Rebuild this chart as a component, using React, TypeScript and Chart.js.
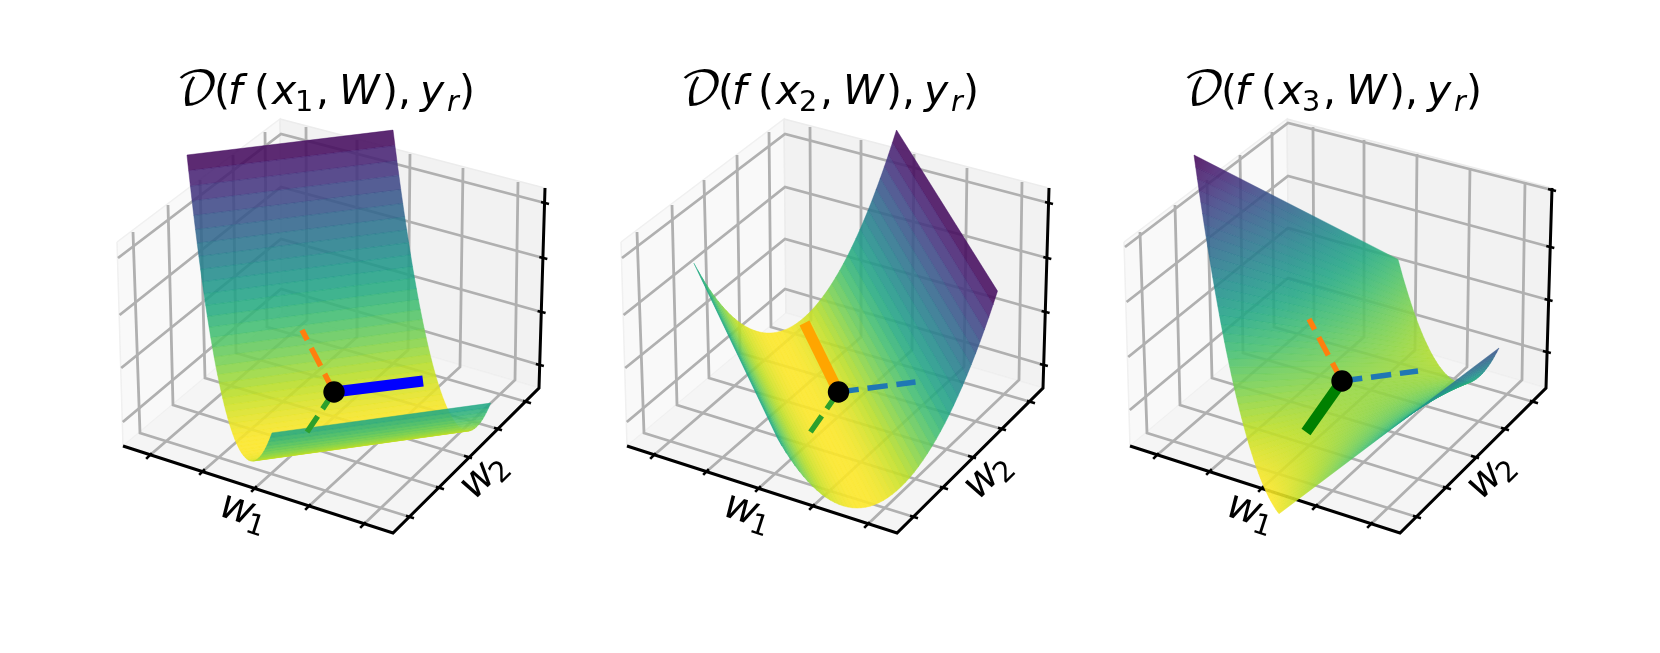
import React, { useEffect, useRef } from "react";
import { Chart, registerables } from "chart.js";

Chart.register(...registerables);

// ---------- data ----------
const acrossDomain = [0,.02,.04,.06,.08,.1,.12,.14,.16,.18,.2,.22,.24,.26,.28,.3,.32,.34,.36,.38,.4,.42,.44,.46,.48,.5,.52,.54,.56,.58,.6,.62,.64,.66,.68,.7,.72,.74,.76,.78,.8,.82,.84,.86,.88,.9,.92,.94,.96,.98,1];
const lossValley = [1,.9352,.8725,.812,.7537,.6976,.6436,.5918,.5422,.4947,.4494,.4063,.3654,.3266,.29,.2556,.2234,.1933,.1654,.1397,.1161,.0948,.0756,.0585,.0437,.031,.0205,.0121,.0059,.002,.0001,.0005,.003,.0077,.0146,.0236,.0348,.0482,.0637,.0815,.1014,.1235,.1477,.1741,.2027,.2335,.2664,.3015,.3388,.3783,.4199];
const lossThirdLeft = [1,.9545,.9101,.8668,.8245,.7832,.743,.7039,.6659,.6288,.5929,.558,.5242,.4914,.4597,.429,.3994,.3709,.3434,.317,.2916,.2673,.244,.2218,.2007,.1806,.1616,.1436,.1267,.1109,.0961,.0824,.0697,.0581,.0475,.038,.0296,.0222,.0159,.0106,.0064,.0032,.0012,.0001,.0001,.0012,.0034,.0066,.0108,.0161,.0225];
const lossThirdRight = [.319,.298,.277,.258,.241,.224,.209,.194,.182,.17,.159,.15,.142,.135,.13,.126,.122,.121,.12,.121,.122,.126,.13,.135,.142,.15,.159,.17,.182,.194,.209,.224,.241,.258,.277,.298,.319,.342,.366,.391,.418,.445,.474,.504,.536,.568,.602,.637,.674,.711,.75];

// ---------- view of each surface: where its two long edges lie on the floor ----------
const surfaces = [
  { zA: lossValley, zB: lossValley, A: { o: [187, 346.4], v: [85, 166.9], rise: 191.4 }, B: { o: [393, 318.7], v: [97.6, 163.6], rise: 188.6 } },
  { zA: lossValley, zB: lossValley, A: { o: [896, 318.26], v: [-202.6, 24], rise: 188.26 }, B: { o: [997, 486.86], v: [-219.8, 34], rise: 195.8 } },
  { zA: lossThirdLeft, zB: lossThirdRight, A: { o: [1194, 345], v: [85, 173], rise: 190 }, B: { o: [1398, 320], v: [101, 170.5], rise: 190 } },
];

const panelOffsets = [0, 503.5, 1007];
const SURFACE_ALPHA = 0.88;
const viridis = ["#440154","#482475","#414487","#355f8d","#2a788e","#21918c","#22a884","#44bf70","#7ad151","#bddf26","#fde725"];

// ---------- axes box geometry (first panel) ----------
const paneLeft = [[117,242],[280,119],[282,313],[123,446]];
const paneRight = [[280,119],[545,188],[539,388],[282,313]];
const paneFloor = [[123,446],[282,313],[539,388],[393,533]];
const w1Ticks = [[149,456],[202,472],[254,489],[308,507],[363,525]];
const w1BackEnds = [[307,320],[357,337],[408,350],[460,367],[515,380]];
const w1WallTops = [[306,127],[357,140],[410,154],[463,168],[518,182]];
const w2Ticks = [[410,517],[440,488],[468,457],[498,429],[527,402]];
const w2BackEnds = [[140,433],[173,405],[205,378],[236,353],[267,327]];
const w2WallTops = [[133,232],[168,205],[200,180],[233,155],[265,132]];
const zGridLeft = [[258,315,368,422],[258,315,368,422],[247,302,357,410]];
const zGridBack = [[134,187,239,289],[134,187,239,289],[123,176,228,278]];
const zGridRight = [[203,258,312,365],[203,258,312,365],[190,247,300,352]];

// ---------- flat directions and minima ----------
const minima = [[334,392],[838,392],[1342,381]];
const blueDirs = [[89,-11],[77,-10],[76,-10]];
const orangeDirs = [[-32,-62],[-34,-69],[-33,-62]];
const greenDirs = [[-27,40],[-28,40],[-36,51]];
const solidDirection = ["blue","orange","green"];

// ---------- text ----------
const subscripts = ["1","2","3"];
const titleFont = 41;

const hexRgb = (h: string) => [1,3,5].map((i) => parseInt(h.slice(i,i+2),16));
function colour(z: number) {
  const t = Math.max(0, Math.min(1, 1 - z)) * 10;
  const i = Math.min(9, Math.floor(t));
  const a = hexRgb(viridis[i]), b = hexRgb(viridis[i+1]), f = t - i;
  const c = a.map((v, k) => Math.round(v + (b[k]-v)*f));
  return `rgba(${c[0]},${c[1]},${c[2]},${SURFACE_ALPHA})`;
}

const XY = (pts: number[][], dx = 0) => pts.map(([x, y]) => ({ x: x + dx, y }));
// The long dash keeps Chart.js off its fast path, which would merge vertices sharing a pixel column.
const poly = (pts: {x:number,y:number}[], backgroundColor: any, extra: any = {}) => ({
  data: [...pts, pts[0]], fill: "shape", backgroundColor, borderWidth: 0, pointRadius: 0, tension: 0, borderDash: [100000], ...extra,
});
const line = (pts: {x:number,y:number}[], borderColor: string, borderWidth: number, extra: any = {}) => ({
  data: pts, fill: false, borderColor, borderWidth, pointRadius: 0, tension: 0, ...extra,
});

function buildDatasets(i: number, ctx: CanvasRenderingContext2D, xMin: number) {
  const dx = panelOffsets[i];
  const out: any[] = [];
  // panes
  out.push(poly(XY(paneLeft, dx), "#f9f9f9", { borderColor: "#f0f0f0", borderWidth: 1.5 }));
  out.push(poly(XY(paneRight, dx), "#f2f2f2", { borderColor: "#ececec", borderWidth: 1.5 }));
  out.push(poly(XY(paneFloor, dx), "#f5f5f5", { borderColor: "#f0f0f0", borderWidth: 1 }));
  // grid
  const GRID = "#b0b0b0", GW = 2.8;
  w1Ticks.forEach((t, k) => out.push(line(XY([t, w1BackEnds[k], w1WallTops[k]], dx), GRID, GW)));
  w2Ticks.forEach((t, k) => out.push(line(XY([t, w2BackEnds[k], w2WallTops[k]], dx), GRID, GW)));
  zGridBack[i].forEach((b, k) => {
    const lx = 118 + k * 1.6, rx = 545 - k * 1.7;
    out.push(line(XY([[lx, zGridLeft[i][k]], [281, b], [rx, zGridRight[i][k]]], dx), GRID, GW));
  });
  // axes
  out.push(line(XY([[123,446],[393,533],[539,388],[545,188]], dx), "#000", 3));
  w1Ticks.forEach(([x, y]) => out.push(line(XY([[x-2.8,y+2.8],[x+2.8,y-2.8]], dx), "#000", 2.6)));
  w2Ticks.forEach(([x, y]) => out.push(line(XY([[x-4,y-1.3],[x+4,y+1.3]], dx), "#000", 2.6)));
  zGridRight[i].forEach((y, k) => {
    const x = 545 - k * 1.7;
    out.push(line(XY([[x-4,y-1],[x+4,y+1]], dx), "#000", 2.6));
  });
  // surface, far strip first
  const s = surfaces[i];
  const end = (e: any, q: number, z: number) => ({ x: e.o[0] + e.v[0]*q, y: e.o[1] + e.v[1]*q - e.rise*z });
  for (let k = 0; k < acrossDomain.length - 1; k++) {
    const q0 = acrossDomain[k], q1 = acrossDomain[k+1];
    const a0 = end(s.A, q0, s.zA[k]), a1 = end(s.A, q1, s.zA[k+1]);
    const b0 = end(s.B, q0, s.zB[k]), b1 = end(s.B, q1, s.zB[k+1]);
    const zA = (s.zA[k] + s.zA[k+1]) / 2, zB = (s.zB[k] + s.zB[k+1]) / 2;
    let fillStyle: any = colour(zA);
    if (s.zA !== s.zB) {
      const g = ctx.createLinearGradient((a0.x+a1.x)/2 - xMin, (a0.y+a1.y)/2, (b0.x+b1.x)/2 - xMin, (b0.y+b1.y)/2);
      for (let j = 0; j <= 10; j++) g.addColorStop(j/10, colour(zA + (zB-zA)*j/10));
      fillStyle = g;
    }
    out.push(poly([a0, b0, b1, a1], fillStyle, { borderColor: fillStyle, borderWidth: 0.5 }));
  }
  // flat directions
  const [cx, cy] = minima[i];
  const dirLine = (d: number[], col: string, solid: boolean) => line(
    [{x:cx,y:cy},{x:cx+d[0],y:cy+d[1]}], col, solid ? 11 : 5.5, solid ? {} : { borderDash: [20.4, 8.8] });
  const sol = solidDirection[i];
  out.push(dirLine(orangeDirs[i], sol === "orange" ? "#ffa500" : "#ff7f0e", sol === "orange"));
  out.push(dirLine(blueDirs[i], sol === "blue" ? "#0000ff" : "#1f77b4", sol === "blue"));
  out.push(dirLine(greenDirs[i], sol === "green" ? "#008000" : "#2ca02c", sol === "green"));
  out.push({ data: [{x:cx,y:cy}], showLine: false, pointRadius: 10.7, pointBackgroundColor: "#000", pointBorderWidth: 0 });
  return out.map((d, n) => ({ ...d, order: out.length - n }));
}

function drawText(c: CanvasRenderingContext2D, text: string, x: number, y: number, font: string) {
  c.font = font; c.fillStyle = "#000"; c.textBaseline = "alphabetic"; c.textAlign = "left";
  c.fillText(text, x, y);
}

const textPlugin = (i: number, xMin: number) => ({
  id: "mathText" + i,
  afterDraw(chart: any) {
    const c = chart.ctx as CanvasRenderingContext2D;
    const off = panelOffsets[i] - xMin;
    const sans = '"DejaVu Sans"';
    const S = titleFont;
    const B = 103.5;
    const SUB = B + 7;
    const up = `${S}px ${sans}`, it = `italic ${S}px ${sans}`, sub = `${S*0.7}px ${sans}`, subIt = `italic ${S*0.7}px ${sans}`;
    c.save();
    drawText(c, "\u{1D49F}", 176+off, B, `46px "DejaVu Math TeX Gyre", ${sans}`);
    drawText(c, "(", 214+off, B, up);
    drawText(c, "f", 228+off, B, it);
    drawText(c, "(", 254+off, B, up);
    drawText(c, "x", 272+off, B, it);
    drawText(c, subscripts[i], 295+off, SUB, sub);
    drawText(c, ",", 316+off, B, up);
    drawText(c, "W", 339+off, B, it);
    drawText(c, ")", 382+off, B, up);
    drawText(c, ",", 398+off, B, up);
    drawText(c, "y", 420+off, B, it);
    drawText(c, "r", 447+off, SUB, subIt);
    drawText(c, ")", 459+off, B, up);

    const axisLabel = (txt: string, cx: number, cy: number, deg: number) => {
      c.save();
      c.translate(cx + off, cy);
      c.rotate(deg * Math.PI / 180);
      drawText(c, "w", -23, 12, it);
      drawText(c, txt, 7, 19, sub);
      c.restore();
    };
    axisLabel("1", 243, 511, 18);
    axisLabel("2", 482, 476, -45);
    c.restore();
  },
});

const CANVAS_W = 500, BASE_LEFT = 90;

function Panel({ index }: { index: number }) {
  const ref = useRef<HTMLCanvasElement | null>(null);
  useEffect(() => {
    const canvas = ref.current!;
    const ctx = canvas.getContext("2d")!;
    const xMin = BASE_LEFT + panelOffsets[index];
    const chart = new Chart(ctx, {
      type: "line",
      data: { datasets: buildDatasets(index, ctx, xMin) as any },
      options: {
        animation: false, responsive: false, events: [],
        layout: { padding: 0, autoPadding: false },
        plugins: { legend: { display: false }, tooltip: { enabled: false }, title: { display: false } },
        scales: {
          x: { type: "linear", display: false, min: xMin, max: xMin + CANVAS_W },
          y: { type: "linear", display: false, min: 0, max: 653, reverse: true },
        },
      },
      plugins: [textPlugin(index, xMin) as any],
    });
    return () => chart.destroy();
  }, [index]);
  return (
    <canvas
      ref={ref}
      width={CANVAS_W}
      height={653}
      style={{ position: "absolute", top: 0, left: BASE_LEFT + panelOffsets[index], width: CANVAS_W, height: 653 }}
    />
  );
}

export default function App() {
  useEffect(() => { document.body.style.margin = "0"; document.body.style.overflow = "hidden"; }, []);
  return (
    <div style={{ position: "absolute", left: 0, top: 0, width: 1660, height: 653, background: "#fff", overflow: "hidden" }}>
      {[0, 1, 2].map((i) => <Panel key={i} index={i} />)}
    </div>
  );
}
